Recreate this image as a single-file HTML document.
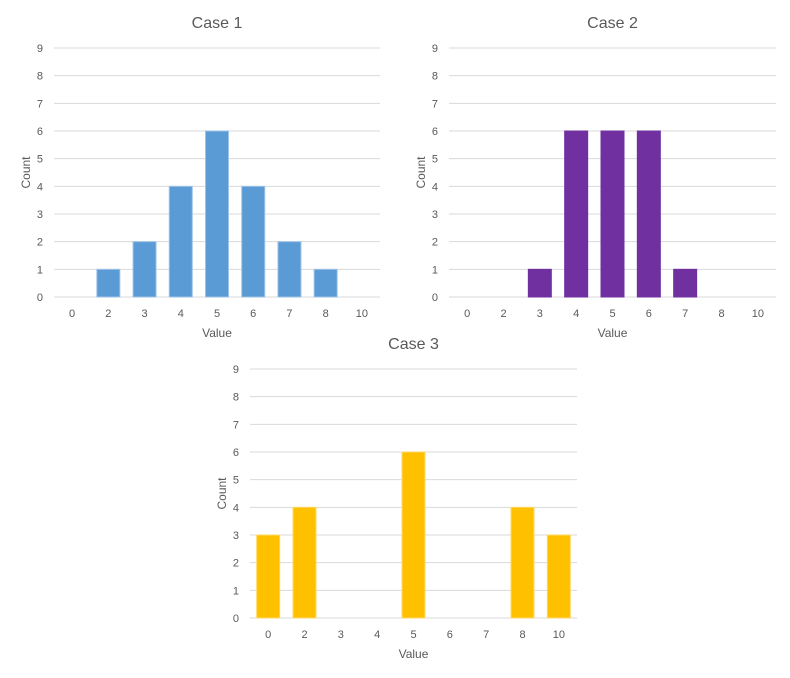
<!DOCTYPE html>
<html><head><meta charset="utf-8"><style>
html,body{margin:0;padding:0;background:#fff;width:790px;height:678px;overflow:hidden}
svg text{font-family:"Liberation Sans",sans-serif;fill:#595959}
</style></head><body>
<svg id="c" width="790" height="678"></svg>
<script>
const categories = ["0","2","3","4","5","6","7","8","10"];
const case1Values = [0,1,2,4,6,4,2,1,0];
const case2Values = [0,0,1,6,6,6,1,0,0];
const case3Values = [3,4,0,0,6,0,0,4,3];
const yTicks = [0,1,2,3,4,5,6,7,8,9];
const titles = ["Case 1","Case 2","Case 3"];

const NS="http://www.w3.org/2000/svg";
const svg=document.getElementById('c');
function mk(tag,attrs,parent){const e=document.createElementNS(NS,tag);for(const k in attrs)e.setAttribute(k,attrs[k]);(parent||svg).appendChild(e);return e;}
function chart(idx,values,x0,x1,yTop,yBot,color,stroke,name){
  const g=mk('g',{});
  
  
  const yMax=9;
  const y=v=>yBot-(v/yMax)*(yBot-yTop);
  const bw=(x1-x0)/categories.length;
  const x=i=>x0+bw*(i+0.5);
  yTicks.forEach(t=>{
    const l=mk('line',{x1:x0,x2:x1,y1:y(t),y2:y(t),stroke:'#d9d9d9','stroke-width':1},g);
    
    
    const tx=mk('text',{x:x0-11,y:y(t)+4,'text-anchor':'end','font-size':11},g);
    tx.textContent=t;
    
    
  });
  values.forEach((v,i)=>{
    if(v>0){
      const r=mk('rect',{x:x(i)-11.5,y:y(v),width:23,height:y(0)-y(v),fill:color,stroke:stroke,'stroke-width':1},g);
      
      
    }
    const tx=mk('text',{x:x(i),y:yBot+20,'text-anchor':'middle','font-size':11},g);
    tx.textContent=categories[i];
    
    
  });
  const t=mk('text',{x:(x0+x1)/2,y:yTop-20,'text-anchor':'middle','font-size':16},g);
  t.textContent=titles[idx];
  
  
  const xt=mk('text',{x:(x0+x1)/2,y:yBot+40,'text-anchor':'middle','font-size':12},g);
  xt.textContent='Value';
  
  
  const cy=(yTop+yBot)/2, cx=x0-27;
  const yt=mk('text',{x:cx,y:cy,'text-anchor':'middle','dominant-baseline':'middle','font-size':12,transform:`rotate(-90 ${cx} ${cy})`},g);
  yt.textContent='Count';
  
  
}
chart(0,case1Values,54,380,48,297,'#5b9bd5','#9dc3e6','chart-case-1');
chart(1,case2Values,449,776,48,297,'#7030a0','#7030a0','chart-case-2');
chart(2,case3Values,250,577,369,618,'#ffc000','#ffd966','chart-case-3');
</script>
</body></html>
